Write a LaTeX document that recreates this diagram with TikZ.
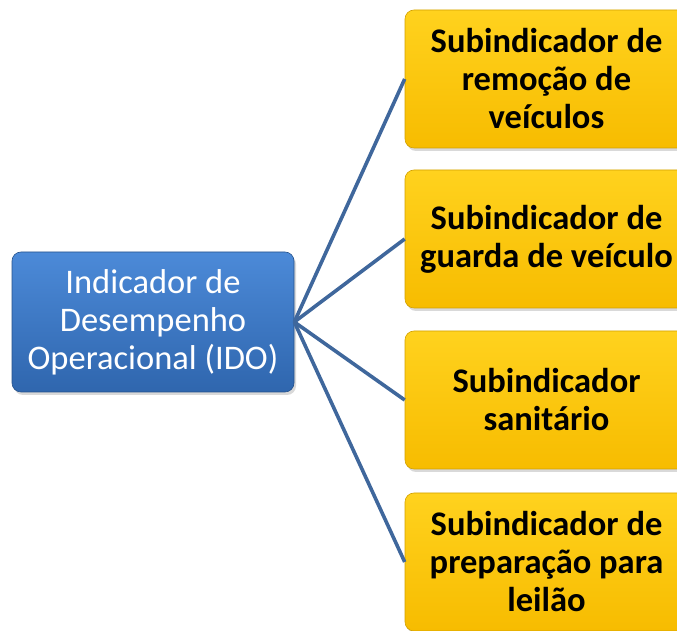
\documentclass[tikz,border=0pt]{standalone}
\usepackage{fontspec}
\setmainfont{Carlito}
\usetikzlibrary{shadows}
\definecolor{linkblue}{HTML}{3F679C}
\definecolor{bluetop}{HTML}{4C8AD8}
\definecolor{bluebot}{HTML}{2F66AE}
\definecolor{goldtop}{HTML}{FFD21E}
\definecolor{goldbot}{HTML}{F7BC00}
\tikzset{
  mainbox/.style={draw=bluebot!80!black, line width=0.6pt, rounded corners=9pt,
    top color=bluetop, bottom color=bluebot, minimum width=282pt, minimum height=140pt,
    align=center, text=white, font=\fontsize{34.5}{38}\selectfont,
    drop shadow={shadow xshift=2pt, shadow yshift=-3pt, opacity=0.3}},
  subbox/.style={draw=goldbot!85!black, line width=0.6pt, rounded corners=9pt,
    top color=goldtop, bottom color=goldbot, minimum width=283pt, minimum height=138pt,
    align=center, text=black, font=\fontsize{34.5}{38}\selectfont\bfseries,
    drop shadow={shadow xshift=2pt, shadow yshift=-3pt, opacity=0.3}},
  link/.style={draw=linkblue, line width=3.6pt}
}
\begin{document}
\begin{tikzpicture}[x=1pt,y=1pt]
\useasboundingbox (0,0) rectangle (677,631);
\clip (0,0) rectangle (677,631);
\node[mainbox] (ido) at (153,309) {Indicador de\\Desempenho\\Operacional (IDO)};
\node[subbox] (s1) at (546.5,552) {Subindicador de\\remoção de\\veículos};
\node[subbox] (s2) at (546.5,392) {Subindicador de\\guarda de veículo};
\node[subbox] (s3) at (546.5,231) {Subindicador\\sanitário};
\node[subbox] (s4) at (546.5,69) {Subindicador de\\preparação para\\leilão};
\draw[link] (ido.east) -- (s1.west);
\draw[link] (ido.east) -- (s2.west);
\draw[link] (ido.east) -- (s3.west);
\draw[link] (ido.east) -- (s4.west);
\end{tikzpicture}
\end{document}
